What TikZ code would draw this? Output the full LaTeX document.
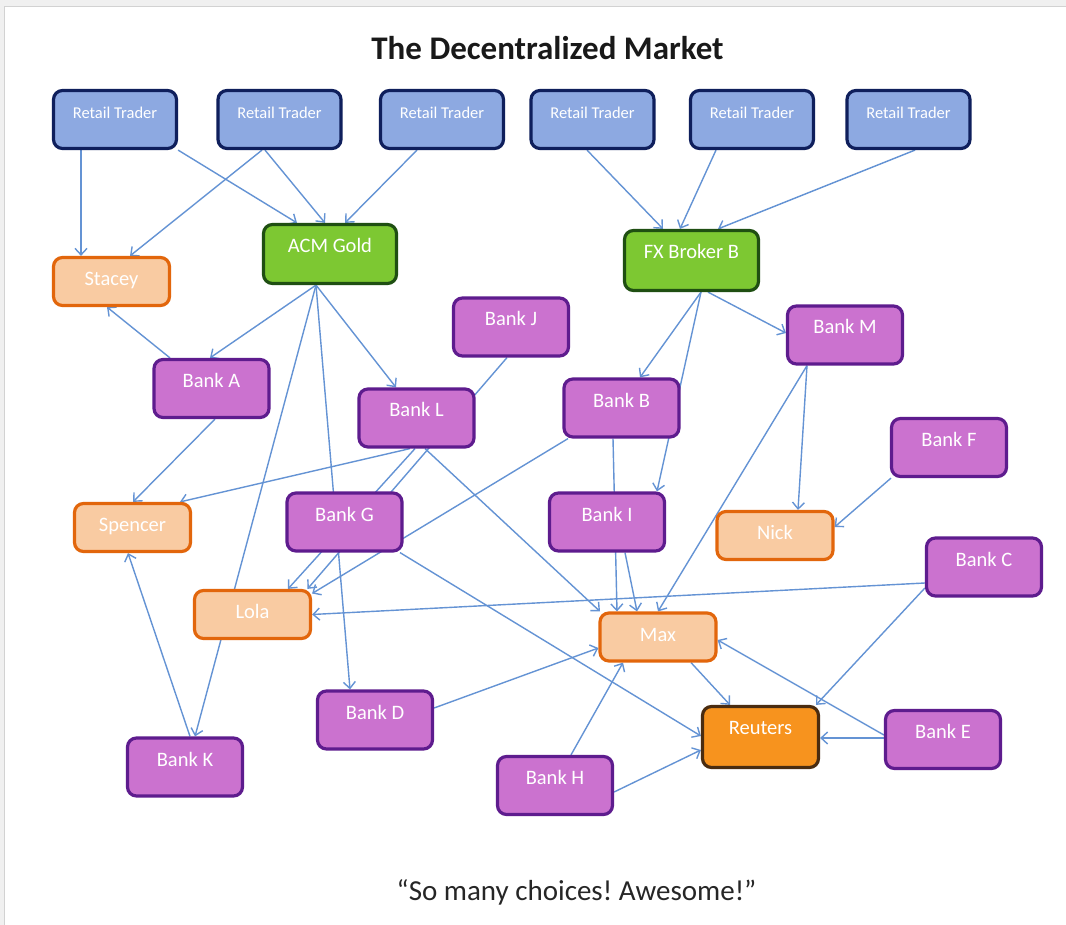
\documentclass[tikz,border=0pt]{standalone}
\usepackage{fontspec}
\setmainfont{Carlito}
\usetikzlibrary{arrows.meta}
\pgfdeclarelayer{bg}
\pgfdeclarelayer{edges}
\pgfsetlayers{bg,edges,main}
\definecolor{rtfill}{HTML}{8DA9E1}
\definecolor{rtdraw}{HTML}{0F1F5C}
\definecolor{grfill}{HTML}{7DC832}
\definecolor{grdraw}{HTML}{1F4F12}
\definecolor{pfill}{HTML}{F9CBA2}
\definecolor{pdraw}{HTML}{E2660C}
\definecolor{bfill}{HTML}{CB72CF}
\definecolor{bdraw}{HTML}{5E1C8E}
\definecolor{rfill}{HTML}{F7931E}
\definecolor{rdraw}{HTML}{4A2C10}
\definecolor{edgec}{HTML}{6493D4}
\definecolor{pagebg}{HTML}{F0F0F0}
\tikzset{
  box/.style={draw, rounded corners=9pt, line width=3.2pt, inner xsep=0pt, inner ysep=0pt,
    text=white, font=\fontsize{20.5}{24}\selectfont, text height=28pt, align=center},
  retail/.style={box, fill=rtfill, draw=rtdraw, minimum width=123pt, text depth=30pt,
    font=\fontsize{16.5}{20}\selectfont},
  broker/.style={box, fill=grfill, draw=grdraw, minimum width=133pt, text depth=31pt},
  person/.style={box, fill=pfill, draw=pdraw, minimum width=116pt, text depth=20pt},
  bank/.style={box, fill=bfill, draw=bdraw, minimum width=115pt, text depth=30pt},
  hub/.style={box, fill=rfill, draw=rdraw, minimum width=116pt, text depth=33pt},
  ed/.style={draw=edgec, line width=1.4pt, -{Straight Barb[length=6.5pt,width=12pt]}},
}
\begin{document}
\frenchspacing
\begin{tikzpicture}[x=1pt,y=-1pt]
\useasboundingbox (0,0) rectangle (1066,925);
\begin{pgfonlayer}{bg}
  \fill[pagebg] (0,0) rectangle (1066,925);
  \fill[white] (4,7) rectangle (1066,925);
  \draw[gray!35, line width=1pt] (4,925) -- (4,7) -- (1066,7);
\end{pgfonlayer}

\node[anchor=base, font=\fontsize{33}{38}\selectfont\bfseries, text=black!90] (title) at (547.5,60) {The Decentralized Market};
\node[anchor=base, font=\fontsize{29}{34}\selectfont, text=black!85] (quote) at (576.5,900) {“So many choices! Awesome!”};

\node[retail] (rt1) at (115,119.5) {Retail Trader};
\node[retail] (rt2) at (279.5,119.5) {Retail Trader};
\node[retail] (rt3) at (442,119.5) {Retail Trader};
\node[retail] (rt4) at (592.5,119.5) {Retail Trader};
\node[retail] (rt5) at (752,119.5) {Retail Trader};
\node[retail] (rt6) at (908.5,119.5) {Retail Trader};

\node[broker] (acm) at (330,254) {ACM Gold};
\node[broker, minimum width=134pt, text depth=32pt] (fx) at (691.5,260.5) {FX Broker B};

\node[person] (stacey) at (111.5,281.5) {Stacey};
\node[person] (spencer) at (132.5,527.5) {Spencer};
\node[person] (lola) at (252.5,614.5) {Lola};
\node[person] (nick) at (775,535.5) {Nick};
\node[person] (max) at (658,637) {Max};

\node[bank] (bankA) at (211.5,388.5) {Bank A};
\node[bank] (bankJ) at (511,327) {Bank J};
\node[bank] (bankL) at (416.5,418) {Bank L};
\node[bank] (bankM) at (845,335) {Bank M};
\node[bank] (bankB) at (621.5,408) {Bank B};
\node[bank] (bankF) at (949,447.5) {Bank F};
\node[bank] (bankG) at (344.5,522) {Bank G};
\node[bank] (bankI) at (607,522) {Bank I};
\node[bank] (bankC) at (984,567) {Bank C};
\node[bank] (bankD) at (375,720) {Bank D};
\node[bank] (bankE) at (943,739.5) {Bank E};
\node[bank] (bankK) at (185,767) {Bank K};
\node[bank] (bankH) at (555,785.5) {Bank H};

\node[hub] (reuters) at (760.5,737) {Reuters};

\begin{pgfonlayer}{edges}
  \draw[ed] ([xshift=-34pt]rt1.south) -- ([xshift=-30.5pt]stacey.north);
  \draw[ed] (rt1.south east) -- ([xshift=-33pt]acm.north);
  \draw[ed] ([xshift=-17.5pt]rt2.south) -- ([xshift=18.5pt]stacey.north);
  \draw[ed] ([xshift=-14.5pt]rt2.south) -- ([xshift=-5pt]acm.north);
  \draw[ed] ([xshift=-25pt]rt3.south) -- ([xshift=15pt]acm.north);
  \draw[ed] ([xshift=-5.5pt]rt4.south) -- ([xshift=-28.5pt]fx.north);
  \draw[ed] ([xshift=-36pt]rt5.south) -- ([xshift=-11.5pt]fx.north);
  \draw[ed] ([xshift=6.5pt]rt6.south) -- ([xshift=26.5pt]fx.north);

  \draw[ed] ([xshift=-14pt]acm.south) -- ([xshift=-1.5pt]bankA.north);
  \draw[ed] ([xshift=-14pt]acm.south) -- ([xshift=-20.5pt]bankL.north);
  \draw[ed] ([xshift=-14pt]acm.south) -- ([xshift=10pt]bankK.north);
  \draw[ed] ([xshift=-14pt]acm.south) -- ([xshift=-25pt]bankD.north);

  \draw[ed] ([xshift=-41.5pt]bankA.north) -- ([xshift=-4.5pt]stacey.south);
  \draw[ed] ([xshift=3.5pt]bankA.south) -- ([xshift=0.5pt]spencer.north);
  \draw[ed] ([xshift=-4pt]bankJ.south) -- ([xshift=55pt]lola.north);
  \draw[ed] ([xshift=-1.5pt]bankL.south) -- ([xshift=35.5pt]lola.north);
  \draw[ed] ([xshift=-6.5pt]bankL.south) -- ([xshift=47.5pt]spencer.north);
  \draw[ed] ([xshift=8.5pt]bankL.south) -- ([xshift=-58pt]max.north);
  \draw[ed] ([xshift=55.5pt]bankG.south) -- ([yshift=1pt]reuters.west);
  \draw[ed] ([xshift=-53.5pt]bankB.south) -- ([yshift=21pt]lola.east);
  \draw[ed] ([xshift=-8.5pt]bankB.south) -- ([xshift=-41pt]max.north);

  \draw[ed] ([xshift=9.5pt]fx.south) -- ([xshift=18.5pt]bankB.north);
  \draw[ed] ([xshift=9.5pt]fx.south) -- ([xshift=50pt]bankI.north);
  \draw[ed] ([xshift=16.5pt]fx.south) -- ([yshift=2pt]bankM.west);

  \draw[ed] ([xshift=-38pt]bankM.south) -- ([xshift=23pt]nick.north);
  \draw[ed] ([xshift=-38pt]bankM.south) -- (max.north);
  \draw[ed] ([xshift=-58pt]bankF.south) -- ([yshift=8.5pt]nick.east);
  \draw[ed] ([xshift=18pt]bankI.south) -- ([xshift=-21pt]max.north);

  \draw[ed] ([yshift=-16pt]bankC.west) -- (lola.east);
  \draw[ed] ([yshift=-21pt]bankC.west) -- ([xshift=55.5pt]reuters.north);
  \draw[ed] ([xshift=33pt]max.south) -- ([xshift=-30.5pt]reuters.north);
  \draw[ed] ([yshift=1.5pt]bankE.west) -- ([yshift=-1pt]reuters.east);
  \draw[ed] ([yshift=4.5pt]bankE.west) -- ([yshift=-3pt]max.east);
  \draw[ed] ([yshift=12pt]bankD.east) -- ([yshift=-11pt]max.west);
  \draw[ed] ([xshift=16pt]bankH.north) -- ([xshift=-35pt]max.south);
  \draw[ed] ([yshift=-6.5pt]bankH.east) -- ([yshift=-13pt]reuters.west);
  \draw[ed] ([xshift=5pt]bankK.north) -- ([xshift=-4.5pt]spencer.south);
\end{pgfonlayer}
\end{tikzpicture}
\end{document}
